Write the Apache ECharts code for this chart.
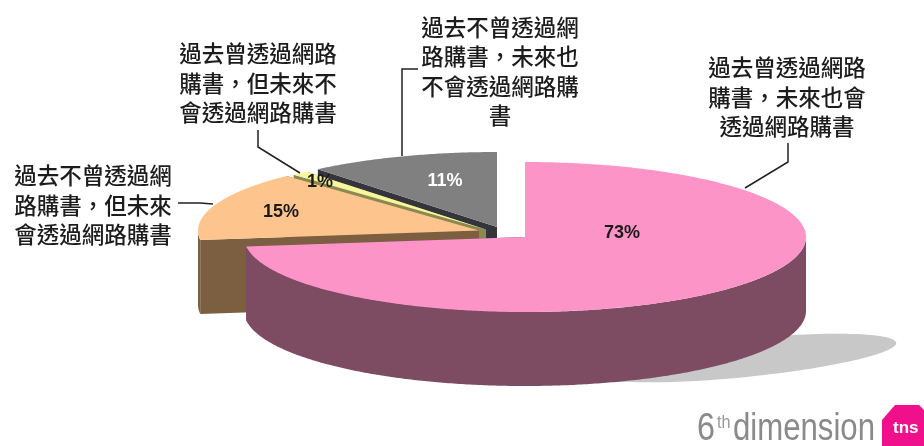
<!DOCTYPE html>
<html><head><meta charset="utf-8">
<style>html,body{margin:0;padding:0;background:#fff}#c{width:924px;height:446px}</style>
<script src="https://cdn.jsdelivr.net/npm/echarts@6/dist/echarts.min.js"></script>
</head><body><div id="c"></div>
<script>
// data
const categories = ['過去曾透過網路購書\uFF0C未來也會透過網路購書','過去不曾透過網路購書\uFF0C但未來會透過網路購書','過去曾透過網路購書\uFF0C但未來不會透過網路購書','過去不曾透過網路購書\uFF0C未來也不會透過網路購書'];
const values = [73, 15, 1, 11];
const pctLabels = ['73%', '15%', '1%', '11%'];
const labelLines = [
  ['過去曾透過網路','購書\uFF0C未來也會','透過網路購書'],
  ['過去不曾透過網','路購書\uFF0C但未來','會透過網路購書'],
  ['過去曾透過網路','購書\uFF0C但未來不','會透過網路購書'],
  ['過去不曾透過網','路購書\uFF0C未來也','不會透過網路購','書']
];
// styling / layout
const topColors = ['#fd94c8','#fdc58d','#f6f69c','#808080'];
const wallColors = ['#7d4b62','#7c5f40','#8a8a50','#34343c'];
const pctColors = ['#1a1a1a','#1a1a1a','#1a1a1a','#ffffff'];
const centers = [[525,237],[479,230.6],[486,229.5],[497,227]];
const depthOrder = [3,2,1,0]; // z rank per slice: pink in front
const RX = 281, RY = 75, H = 74;
const pctPos = [[622,233],[281,212],[320,182],[445,181]];
const labelPos = [[787,97],[93,205],[258,83],[500,71.5]];
const leaders = [
  [[788,143],[788,162],[745,188]],
  [[178,203],[200,203],[213,204]],
  [[258,130],[258,147],[300,173]],
  [[418,69],[402,69],[402,156]]
];
const total = values.reduce((a,b)=>a+b,0);
const pt = (c,t,dy=0)=>[c[0]+RX*Math.sin(t), c[1]-RY*Math.cos(t)+dy];
function arcPts(c,a,b,dy=0){
  const n=Math.max(2,Math.ceil((b-a)/0.01)),o=[];
  for(let i=0;i<=n;i++) o.push(pt(c,a+(b-a)*i/n,dy));
  return o;
}
function renderItem(params, api){
  const i=params.dataIndex, v=api.value(0);
  let before=0; for(let k=0;k<i;k++) before+=values[k];
  const a=before/total*2*Math.PI, b=(before+v)/total*2*Math.PI, c=centers[i];
  const z=depthOrder[i]*10+1, kids=[];
  const poly=(points,fill,zz)=>({type:'polygon',z2:zz,silent:true,shape:{points},style:{fill}});
  // radial cut faces
  [a,b].forEach(t=>{
    const p=pt(c,t);
    kids.push(poly([c,p,[p[0],p[1]+H],[c[0],c[1]+H]],wallColors[i],z));
  });
  // front rim
  const fa=Math.max(a,Math.PI/2), fb=Math.min(b,Math.PI*1.5);
  if(fb>fa){
    const up=arcPts(c,fa,fb), down=arcPts(c,fa,fb,H).reverse();
    kids.push(poly(up.concat(down),wallColors[i],z+1));
  }
  // top face
  kids.push(poly([c].concat(arcPts(c,a,b)),topColors[i],z+2));
  // percent label
  kids.push({type:'text',z2:100,silent:true,style:{text:pctLabels[i],x:pctPos[i][0],y:pctPos[i][1],
    align:'center',verticalAlign:'middle',fill:pctColors[i],font:'bold 18px "Liberation Sans", Arial, sans-serif'}});
  // leader + category label
  kids.push({type:'polyline',z2:101,silent:true,shape:{points:leaders[i]},style:{stroke:'#222',lineWidth:1.5,fill:null}});
  kids.push({type:'text',z2:102,silent:true,style:{text:labelLines[i].join('\n'),x:labelPos[i][0],y:labelPos[i][1],
    align:'center',verticalAlign:'middle',lineHeight:29.5,fill:'#1c1c1c',font:'500 22.5px "Noto Sans CJK TC", sans-serif'}});
  return {type:'group',children:kids};
}
const chart=echarts.init(document.getElementById('c'),null,{width:924,height:446});
chart.setOption({
  animation:false,
  backgroundColor:'#fff',
  graphic:[
    {type:'ellipse',z:0,silent:true,x:745,y:358,originX:0,originY:0,rotation:0.1,shape:{cx:0,cy:0,rx:152,ry:19},style:{fill:'#c8c8c8'}},
    {type:'text',z:5,silent:true,x:697,y:411,scaleX:0.85,style:{text:'6',fill:'#8a8a8a',font:'38px "Liberation Sans",sans-serif'}},
    {type:'text',z:5,silent:true,x:717,y:414,scaleX:0.9,style:{text:'th',fill:'#999999',font:'18px "Liberation Sans",sans-serif'}},
    {type:'text',z:5,silent:true,x:733,y:411,scaleX:0.82,style:{text:'dimension',fill:'#8a8a8a',font:'38px "Liberation Sans",sans-serif'}},
    {type:'polygon',z:5,silent:true,shape:{points:[[882,420],[895,405],[919,405],[924,410],[924,446],[882,446]]},style:{fill:'#f0108c'}},
    {type:'text',z:6,silent:true,x:893,y:420,style:{text:'tns',fill:'#fff',font:'bold 17px "Liberation Sans",sans-serif'}}
  ],
  series:[{
    type:'custom',coordinateSystem:'none',z:2,silent:true,clip:false,
    renderItem,
    data:values.map((v,i)=>({name:categories[i],value:[v]}))
  }]
});
</script></body></html>
